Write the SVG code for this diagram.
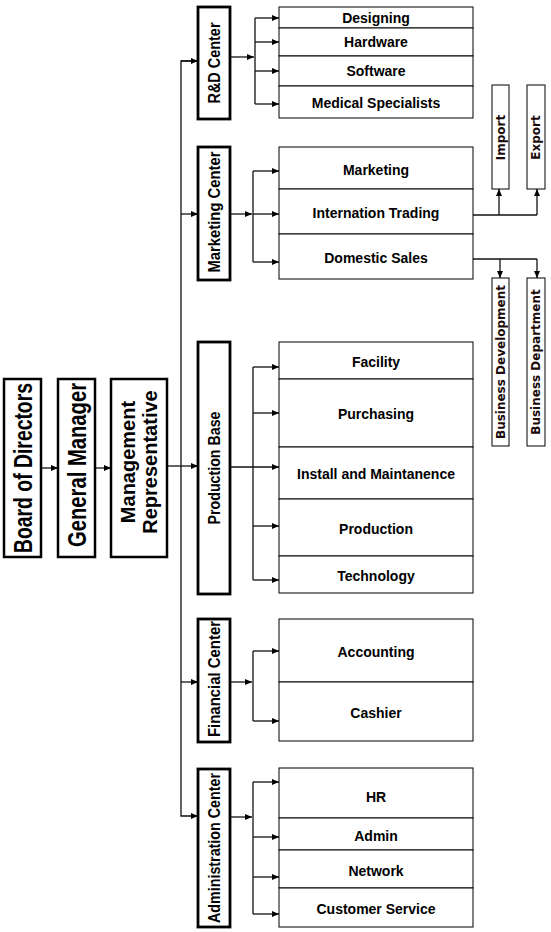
<svg xmlns="http://www.w3.org/2000/svg" width="551" height="932" viewBox="0 0 551 932">
<style>
.bg{fill:#fff}
.big{fill:#fff;stroke:#000;stroke-width:2.5}
.mid{fill:#fff;stroke:#000;stroke-width:2.8}
.row{fill:#fff;stroke:#000;stroke-width:1}
.sm{fill:#fff;stroke:#000;stroke-width:1}
.ln{fill:none;stroke:#111;stroke-width:1.3}
.t{font-family:"Liberation Sans",Arial,sans-serif;font-weight:bold;fill:#000}
.rt{font-size:14px;text-anchor:middle}
.vt{text-anchor:middle;dominant-baseline:central}
.ct{font-size:17px}
.st{font-family:"DejaVu Sans",Verdana,sans-serif;font-weight:bold;font-size:12px;fill:#1a0a0a;text-anchor:middle;dominant-baseline:central}
</style>
<defs>
<marker id="ah" markerUnits="userSpaceOnUse" markerWidth="8" markerHeight="6" refX="7" refY="3" orient="auto">
<path d="M0,0 L7,3 L0,6 z" fill="#000"/>
</marker>
</defs>
<rect class="bg" x="0" y="0" width="551" height="932"/>

<g id="connectors" class="ln">
<line x1="41" y1="468" x2="58" y2="468" marker-end="url(#ah)"/>
<line x1="95" y1="468" x2="111" y2="468" marker-end="url(#ah)"/>
<line x1="167" y1="466" x2="198" y2="466" marker-end="url(#ah)"/>
<polyline points="198,61 181,61 181,816 198,816" marker-end="url(#ah)"/>
<line x1="181" y1="61" x2="198" y2="61" marker-end="url(#ah)"/>
<line x1="181" y1="214" x2="198" y2="214" marker-end="url(#ah)"/>
<line x1="181" y1="682" x2="198" y2="682" marker-end="url(#ah)"/>

<line x1="230" y1="57" x2="254" y2="57" marker-end="url(#ah)"/>
<line x1="255" y1="18" x2="255" y2="104"/>
<line x1="255" y1="18" x2="279" y2="18" marker-end="url(#ah)"/>
<line x1="255" y1="42" x2="279" y2="42" marker-end="url(#ah)"/>
<line x1="255" y1="71" x2="279" y2="71" marker-end="url(#ah)"/>
<line x1="255" y1="104" x2="279" y2="104" marker-end="url(#ah)"/>

<line x1="230" y1="214" x2="252" y2="214" marker-end="url(#ah)"/>
<line x1="253" y1="171" x2="253" y2="262"/>
<line x1="253" y1="171" x2="279" y2="171" marker-end="url(#ah)"/>
<line x1="253" y1="214" x2="279" y2="214" marker-end="url(#ah)"/>
<line x1="253" y1="262" x2="279" y2="262" marker-end="url(#ah)"/>

<line x1="473" y1="215" x2="537" y2="215"/>
<line x1="499" y1="215" x2="499" y2="189" marker-end="url(#ah)"/>
<line x1="537" y1="215" x2="537" y2="189" marker-end="url(#ah)"/>
<line x1="473" y1="259" x2="537" y2="259"/>
<line x1="500" y1="259" x2="500" y2="278" marker-end="url(#ah)"/>
<line x1="537" y1="259" x2="537" y2="278" marker-end="url(#ah)"/>

<line x1="230" y1="467" x2="279" y2="467" marker-end="url(#ah)"/>
<line x1="253" y1="367" x2="253" y2="580"/>
<line x1="253" y1="367" x2="279" y2="367" marker-end="url(#ah)"/>
<line x1="253" y1="413" x2="279" y2="413" marker-end="url(#ah)"/>
<line x1="253" y1="526" x2="279" y2="526" marker-end="url(#ah)"/>
<line x1="253" y1="580" x2="279" y2="580" marker-end="url(#ah)"/>

<line x1="230" y1="682" x2="252" y2="682" marker-end="url(#ah)"/>
<line x1="253" y1="651" x2="253" y2="721"/>
<line x1="253" y1="651" x2="279" y2="651" marker-end="url(#ah)"/>
<line x1="253" y1="721" x2="279" y2="721" marker-end="url(#ah)"/>

<line x1="230" y1="817" x2="252" y2="817" marker-end="url(#ah)"/>
<line x1="253" y1="782" x2="253" y2="914"/>
<line x1="253" y1="782" x2="279" y2="782" marker-end="url(#ah)"/>
<line x1="253" y1="837" x2="279" y2="837" marker-end="url(#ah)"/>
<line x1="253" y1="877" x2="279" y2="877" marker-end="url(#ah)"/>
<line x1="253" y1="914" x2="279" y2="914" marker-end="url(#ah)"/>
</g>

<g id="board">
<rect class="big" x="4" y="379" width="37" height="178"/>
<text class="t vt" font-size="26" textLength="170" lengthAdjust="spacingAndGlyphs" transform="translate(22.5,468) rotate(-90)">Board of Directors</text>
</g>
<g id="general-manager">
<rect class="big" x="58" y="379" width="37" height="178"/>
<text class="t vt" font-size="25" textLength="164" lengthAdjust="spacingAndGlyphs" transform="translate(76.5,465) rotate(-90)">General Manager</text>
</g>
<g id="management-rep">
<rect class="big" x="111" y="379" width="56" height="178"/>
<text class="t vt" font-size="20" transform="translate(128,462) rotate(-90)">Management</text>
<text class="t vt" font-size="20" transform="translate(150,462) rotate(-90)">Representative</text>
</g>

<g id="rd-center">
<rect class="mid" x="198" y="7" width="32" height="112"/>
<text class="t vt ct" textLength="81" lengthAdjust="spacingAndGlyphs" transform="translate(214,63) rotate(-90)">R&amp;D Center</text>
</g>
<g id="marketing-center">
<rect class="mid" x="198" y="147" width="32" height="133"/>
<text class="t vt ct" textLength="121" lengthAdjust="spacingAndGlyphs" transform="translate(214,212) rotate(-90)">Marketing Center</text>
</g>
<g id="production-base">
<rect class="mid" x="198" y="342" width="32" height="252"/>
<text class="t vt ct" textLength="113" lengthAdjust="spacingAndGlyphs" transform="translate(214,468) rotate(-90)">Production Base</text>
</g>
<g id="financial-center">
<rect class="mid" x="198" y="619" width="32" height="123"/>
<text class="t vt ct" textLength="116" lengthAdjust="spacingAndGlyphs" transform="translate(214,679) rotate(-90)">Financial Center</text>
</g>
<g id="admin-center">
<rect class="mid" x="198" y="769" width="32" height="158"/>
<text class="t vt ct" textLength="150" lengthAdjust="spacingAndGlyphs" transform="translate(214,848) rotate(-90)">Administration Center</text>
</g>

<g id="designing"><rect class="row" x="279" y="7" width="194" height="21"/><text class="t rt" x="376" y="23">Designing</text></g>
<g id="hardware"><rect class="row" x="279" y="28" width="194" height="28"/><text class="t rt" x="376" y="47">Hardware</text></g>
<g id="software"><rect class="row" x="279" y="56" width="194" height="30"/><text class="t rt" x="376" y="76">Software</text></g>
<g id="medical"><rect class="row" x="279" y="86" width="194" height="32"/><text class="t rt" x="376" y="108">Medical Specialists</text></g>

<g id="marketing"><rect class="row" x="279" y="147" width="194" height="42"/><text class="t rt" x="376" y="175">Marketing</text></g>
<g id="intl-trading"><rect class="row" x="279" y="189" width="194" height="45"/><text class="t rt" x="376" y="218">Internation Trading</text></g>
<g id="domestic-sales"><rect class="row" x="279" y="234" width="194" height="45"/><text class="t rt" x="376" y="263">Domestic Sales</text></g>

<g id="import"><rect class="sm" x="492" y="85" width="17" height="104"/><text class="st" transform="translate(500.5,137.5) rotate(-90)">Import</text></g>
<g id="export"><rect class="sm" x="527" y="85" width="18" height="104"/><text class="st" transform="translate(536,137.5) rotate(-90)">Export</text></g>
<g id="business-development"><rect class="sm" x="492" y="278" width="17" height="168"/><text class="st" transform="translate(500.5,362) rotate(-90)">Business Development</text></g>
<g id="business-department"><rect class="sm" x="527" y="278" width="18" height="168"/><text class="st" transform="translate(536,362) rotate(-90)">Business Department</text></g>

<g id="facility"><rect class="row" x="279" y="342" width="194" height="37"/><text class="t rt" x="376" y="367">Facility</text></g>
<g id="purchasing"><rect class="row" x="279" y="379" width="194" height="68"/><text class="t rt" x="376" y="419">Purchasing</text></g>
<g id="install"><rect class="row" x="279" y="447" width="194" height="52"/><text class="t rt" x="376" y="479">Install and Maintanence</text></g>
<g id="production"><rect class="row" x="279" y="499" width="194" height="57"/><text class="t rt" x="376" y="534">Production</text></g>
<g id="technology"><rect class="row" x="279" y="556" width="194" height="37"/><text class="t rt" x="376" y="581">Technology</text></g>

<g id="accounting"><rect class="row" x="279" y="619" width="194" height="63"/><text class="t rt" x="376" y="657">Accounting</text></g>
<g id="cashier"><rect class="row" x="279" y="682" width="194" height="59"/><text class="t rt" x="376" y="718">Cashier</text></g>

<g id="hr"><rect class="row" x="279" y="768" width="194" height="50"/><text class="t rt" x="376" y="802">HR</text></g>
<g id="admin"><rect class="row" x="279" y="818" width="194" height="32"/><text class="t rt" x="376" y="841">Admin</text></g>
<g id="network"><rect class="row" x="279" y="850" width="194" height="38"/><text class="t rt" x="376" y="876">Network</text></g>
<g id="customer-service"><rect class="row" x="279" y="888" width="194" height="39"/><text class="t rt" x="376" y="914">Customer Service</text></g>
</svg>
